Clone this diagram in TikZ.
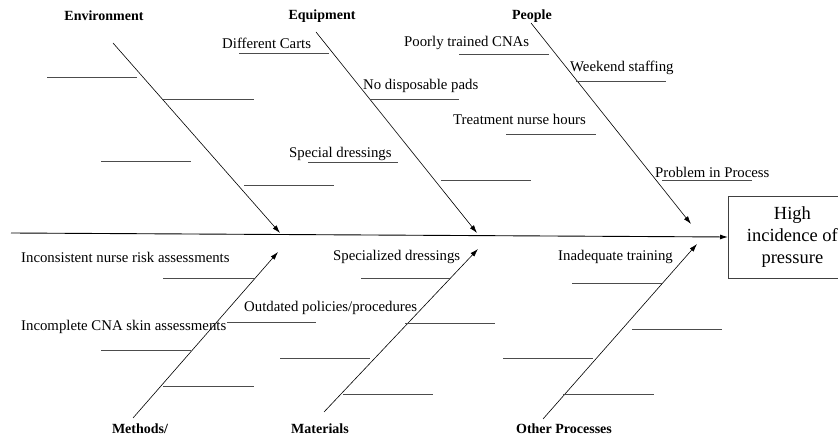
\documentclass[tikz,border=0pt]{standalone}
\usepackage{fontspec}
\setmainfont{Liberation Serif}
\usetikzlibrary{arrows.meta}
\begin{document}
\begin{tikzpicture}[x=1pt,y=-1pt,
  cause/.style={anchor=west,inner sep=0pt,font=\fontsize{14.8}{16}\selectfont},
  category/.style={inner sep=0pt,font=\fontsize{14}{16}\selectfont\bfseries},
  subline/.style={draw=black!70,line width=0.9pt},
  bone/.style={draw=black,line width=0.6pt,-{Latex[length=8pt,width=5pt]}},
  spine/.style={draw=black,line width=0.9pt,-{Latex[length=8pt,width=5pt]}},
  effectbox/.style={draw=black!75,line width=0.8pt,anchor=west,minimum width=128pt,minimum height=82pt,align=center,inner sep=0pt,font=\fontsize{18.5}{22}\selectfont}]
\useasboundingbox (0,0) rectangle (838,438);
% effect box
\node[effectbox] (effect) at (728,237) {High\\incidence of\\pressure};
% spine
\coordinate (tail) at (11,233);
\draw[spine] (tail) -- (effect.west);
% bone end points
\coordinate (envS) at (113,43);   \coordinate (envE) at (280,233);
\coordinate (equS) at (316,32);   \coordinate (equE) at (477,233);
\coordinate (peoS) at (531,23);   \coordinate (peoE) at (691,224);
\coordinate (metS) at (133,418);  \coordinate (metE) at (278,252);
\coordinate (matS) at (324,412);  \coordinate (matE) at (478,249);
\coordinate (othS) at (543,419);  \coordinate (othE) at (697,244);
\draw[bone] (envS) -- (envE);
\draw[bone] (equS) -- (equE);
\draw[bone] (peoS) -- (peoE);
\draw[bone] (metS) -- (metE);
\draw[bone] (matS) -- (matE);
\draw[bone] (othS) -- (othE);
% categories
\node[category] (cEnv) at (104,16) {Environment};
\node[category] (cEqu) at (322,16) {Equipment};
\node[category] (cPeo) at (532,16) {People};
\node[category] (cMet) at (140,429) {Methods/};
\node[category] (cMat) at (320,429) {Materials};
\node[category] (cOth) at (564,429) {Other Processes};
% cause labels
\node[cause] (t1) at (222,43) {Different Carts};
\node[cause] (t2) at (363,86) {No disposable pads};
\node[cause] (t3) at (289,154) {Special dressings};
\node[cause] (t4) at (404,43) {Poorly trained CNAs};
\node[cause] (t5) at (570,68) {Weekend staffing};
\node[cause] (t6) at (453,119) {Treatment nurse hours};
\node[cause] (t7) at (655,172) {Problem in Process};
\node[cause] (t8) at (21,257) {Inconsistent nurse risk assessments};
\node[cause] (t9) at (21,327) {Incomplete CNA skin assessments};
\node[cause] (t10) at (244,308) {Outdated policies/procedures};
\node[cause] (t11) at (333,257) {Specialized dressings};
\node[cause] (t12) at (558,257) {Inadequate training};
% sub-cause lines
\foreach \xa/\xb/\yy in {47/137/77, 163/254/99, 101/191/161, 244/334/185, 239/329/53,
  308/398/162, 370/459/99, 459/549/54, 576/666/81, 506/596/134, 441/531/180, 662/752/180,
  163/254/278, 227/316/322, 101/191/350, 163/254/386, 361/451/278, 280/370/358,
  343/433/394, 405/495/323, 572/662/283, 632/722/329, 503/593/358, 563/654/394}
  \draw[subline] (\xa,\yy) -- (\xb,\yy);
\end{tikzpicture}
\end{document}
